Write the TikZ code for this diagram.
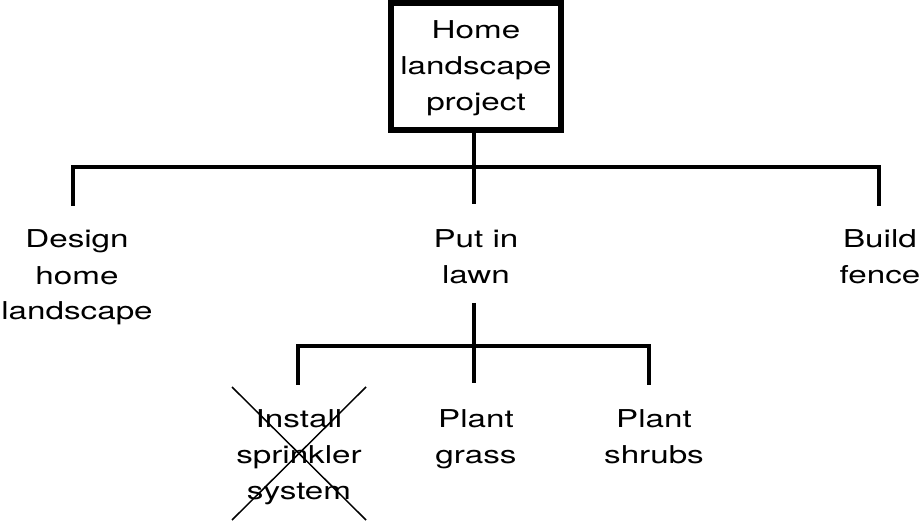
\documentclass[tikz,border=0pt]{standalone}
\usepackage{fontspec}
\setmainfont{TeX Gyre Heros}[FakeStretch=1.35]
\begin{document}
\begin{tikzpicture}[x=1pt,y=-1pt,
  lbl/.style={align=center,anchor=base,inner sep=0pt,font=\fontsize{24.6}{36}\selectfont},
  conn/.style={line width=3.2pt},
  topbox/.style={draw,line width=5.5pt,minimum width=170pt,minimum height=127pt,inner sep=0pt},
  cross/.style={line width=1.5pt}]
\useasboundingbox (0,0) rectangle (924,521);
% top box
\node[topbox] (box) at (476,66.5) {};
\node[lbl] (boxt) at (476,111) {Home\\landscape\\project};
% level 1 junction
\coordinate (j1) at (474,167);
\coordinate (l1) at (73,167);
\coordinate (r1) at (879,167);
\coordinate (l1e) at (73,204);
\coordinate (c1e) at (474,204);
\coordinate (r1e) at (879,204);
\draw[conn] (box.south -| j1) -- (c1e);
\draw[conn,line cap=rect] (l1e) -- (l1) -- (r1) -- (r1e);
\node[lbl] (design) at (77,320) {Design\\home\\landscape};
\node[lbl] (lawn) at (476,284) {Put in\\lawn};
\node[lbl] (fence) at (880,284) {Build\\fence};
% level 2
\coordinate (t2) at (474,303);
\coordinate (l2) at (298,346);
\coordinate (r2) at (649,346);
\coordinate (l2e) at (298,383);
\coordinate (c2e) at (474,383);
\coordinate (r2e) at (649,383);
\draw[conn] (t2) -- (c2e);
\draw[conn,line cap=rect] (l2e) -- (l2) -- (r2) -- (r2e);
\node[lbl] (install) at (299,499) {Install\\sprinkler\\system};
\node[lbl] (grass) at (476,463) {Plant\\grass};
\node[lbl] (shrubs) at (654,463) {Plant\\shrubs};
% cross-out
\coordinate (xa) at (232,387);
\coordinate (xb) at (366,520);
\coordinate (xc) at (366,387);
\coordinate (xd) at (232,520);
\draw[cross] (xa) -- (xb);
\draw[cross] (xc) -- (xd);
\end{tikzpicture}
\end{document}
